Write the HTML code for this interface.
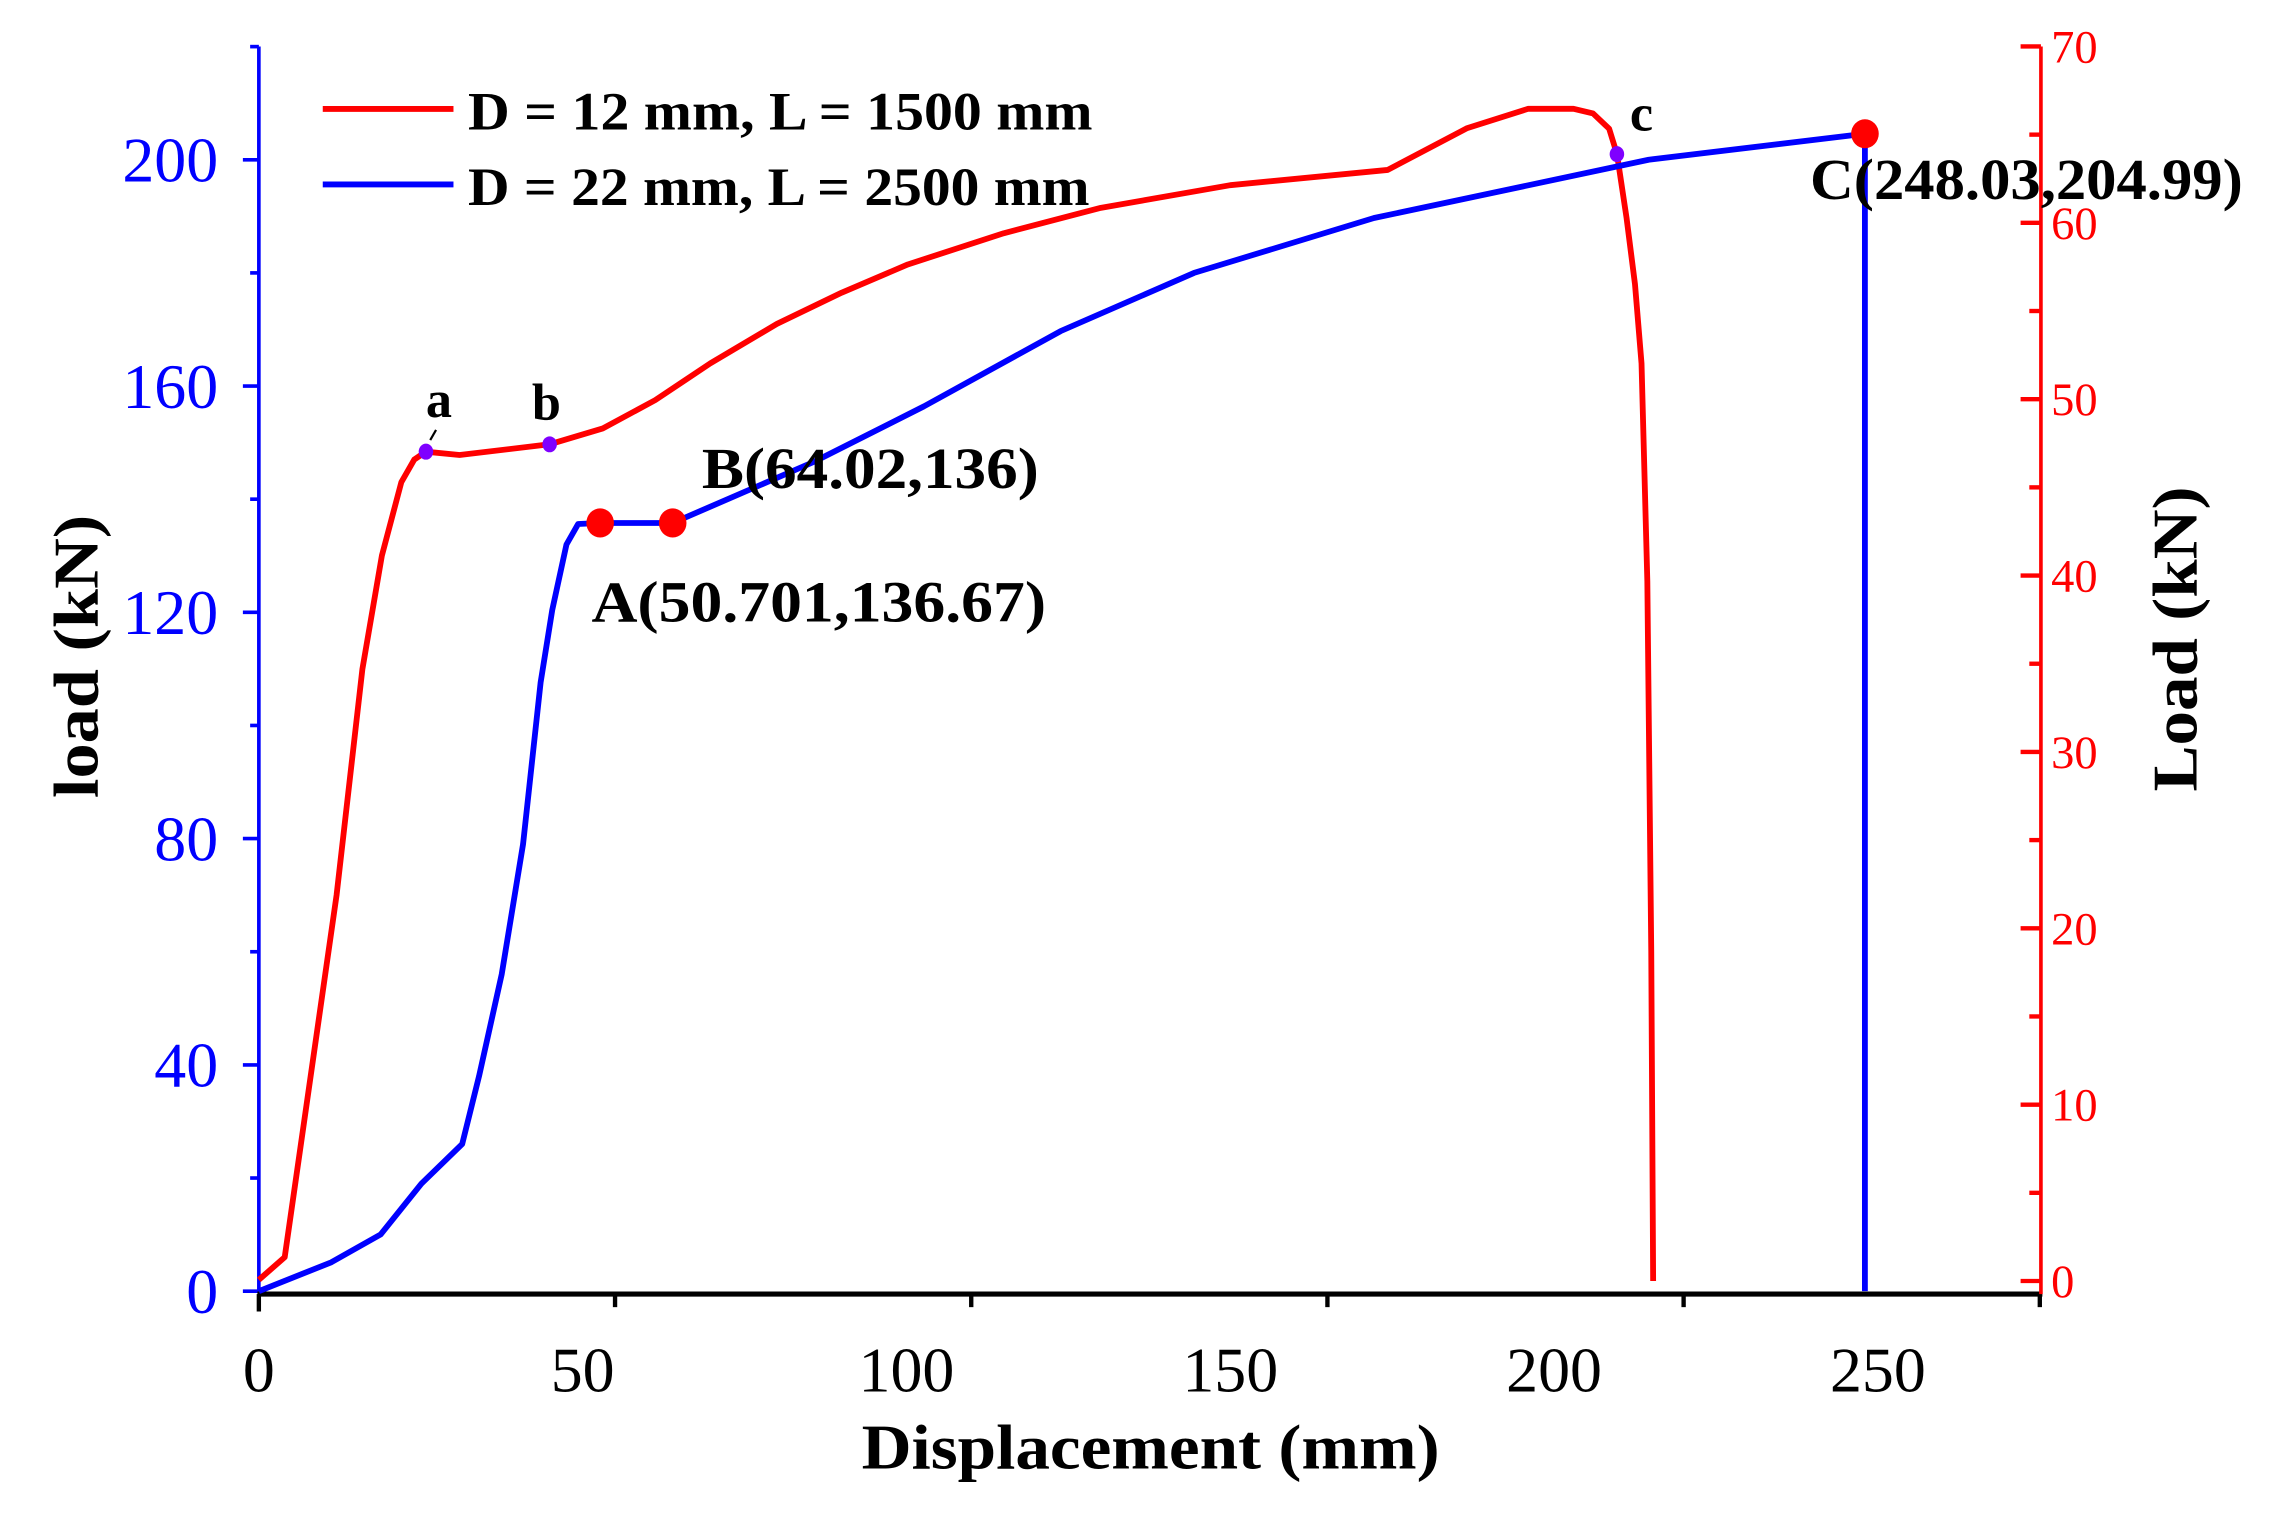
<!DOCTYPE html>
<html><head><meta charset="utf-8"><style>
html,body{margin:0;padding:0;background:#fff;}
svg{display:block;}
text{font-family:"Liberation Serif",serif;}
</style></head><body>
<svg id="chart" width="2278" height="1525" viewBox="0 0 1568 1050" xmlns="http://www.w3.org/2000/svg">
<g id="axes"></g>
<g id="series"></g>
<g id="annot"></g>
<g>
  <line x1="222" y1="75" x2="312" y2="75" stroke="#ff0000" stroke-width="4"/>
  <text x="322" y="89" font-size="37" font-weight="bold" textLength="430" lengthAdjust="spacingAndGlyphs">D = 12 mm, L = 1500 mm</text>
  <line x1="222" y1="127" x2="312" y2="127" stroke="#0000ff" stroke-width="4"/>
  <text x="322" y="141" font-size="37" font-weight="bold" textLength="428" lengthAdjust="spacingAndGlyphs">D = 22 mm, L = 2500 mm</text>
</g>
<text x="792" y="1011" font-size="44" font-weight="bold" text-anchor="middle" textLength="398" lengthAdjust="spacingAndGlyphs">Displacement (mm)</text>
<text transform="translate(67,452) rotate(-90)" font-size="44" font-weight="bold" text-anchor="middle" textLength="195" lengthAdjust="spacingAndGlyphs">load (kN)</text>
<text transform="translate(1512,440) rotate(-90)" font-size="44" font-weight="bold" text-anchor="middle" textLength="210" lengthAdjust="spacingAndGlyphs">Load (kN)</text>
</svg>
<script>
const redX = [0,4,7,12,16,19,22,24,25.8,31,44.9,53.1,61.2,69.7,80,90,100.2,115,130,150,174.3,186.6,196,203,206,208.5,209.7,211.2,212.5,213.5,214.4,215,215.3];
const redY = [2,6,30,70,110,130,143,147,148.4,147.8,149.7,152.5,157.5,164,171,176.5,181.5,187,191.5,195.5,198.2,205.6,209,209,208.2,205.5,201,189.7,178,164,125.5,60,1.8];
const blueX = [0,11.2,18.8,25.1,31.4,34,37.5,40.8,43.5,45.3,47.5,49.3,52.7,63.9,85.7,102.7,123.8,144.4,172.2,214.6,248,248];
const blueY = [0,5.1,10,19,26,38,56,79,107.6,120.4,132,135.6,135.8,135.8,146.6,156.4,169.7,180,189.7,200,204.6,0];
const xTickLabels = [0,50,100,150,200,250];
const xTickMarks = [0,55,110,165,220,275];
const leftTicks = [0,40,80,120,160,200];
const rightTicks = [0,10,20,30,40,50,60,70];
const bigMarkers = [[52.7,135.8],[63.9,135.8],[248,204.6]];
const smallMarkers = [[25.8,148.4],[44.9,149.7],[209.7,201]];

const NS="http://www.w3.org/2000/svg";
const X0=178, PXMM=4.459, Y0=889, PXKN=3.895;
const xs=v=>X0+v*PXMM, ys=v=>Y0-v*PXKN;
const RY0=882, PXR=12.143; const ry=v=>RY0-v*PXR;
function mk(parent,tag,attrs){const e=document.createElementNS(NS,tag);for(const k in attrs)e.setAttribute(k,attrs[k]);parent.appendChild(e);return e;}
const axes=document.getElementById('axes'), series=document.getElementById('series'), annot=document.getElementById('annot');

// left axis
let e=mk(axes,'line',{x1:178,y1:32,x2:178,y2:890,stroke:'#0000ff','stroke-width':2.5});


for(let v=0;v<=220;v+=20){
  const major=v%40===0;
  e=mk(axes,'line',{x1:major?167:172,y1:ys(v),x2:178,y2:ys(v),stroke:'#0000ff','stroke-width':2.5});
  
  
}
leftTicks.forEach(v=>{
  e=mk(axes,'text',{x:150,y:ys(v)+15,'font-size':44,'text-anchor':'end',fill:'#0000ff'});
  e.textContent=v;
  
  
});
// x axis
e=mk(axes,'line',{x1:177,y1:891,x2:1406,y2:891,stroke:'#000','stroke-width':3.5});


xTickMarks.forEach(v=>{
  e=mk(axes,'line',{x1:xs(v),y1:891,x2:xs(v),y2:v===0?903:900,stroke:'#000','stroke-width':3});
  
  
});
xTickLabels.forEach(v=>{
  e=mk(axes,'text',{x:xs(v),y:958,'font-size':44,'text-anchor':'middle',fill:'#000'});
  e.textContent=v;
  
  
});
// right axis
e=mk(axes,'line',{x1:1405,y1:32,x2:1405,y2:891,stroke:'#ff0000','stroke-width':2.5});


for(let v=0;v<=70;v+=5){
  const major=v%10===0;
  e=mk(axes,'line',{x1:major?1391:1397,y1:ry(v),x2:1405,y2:ry(v),stroke:'#ff0000','stroke-width':3});
  
  
}
rightTicks.forEach(v=>{
  e=mk(axes,'text',{x:1412,y:ry(v)+11,'font-size':32,'text-anchor':'start',fill:'#ff0000'});
  e.textContent=v;
  
  
});
// series
function path(xa,ya){return xa.map((x,i)=>(i?'L':'M')+xs(x).toFixed(1)+','+ys(ya[i]).toFixed(1)).join(' ');}
e=mk(series,'path',{d:path(redX,redY),fill:'none',stroke:'#ff0000','stroke-width':4,'stroke-linejoin':'round'});


e=mk(series,'path',{d:path(blueX,blueY),fill:'none',stroke:'#0000ff','stroke-width':4,'stroke-linejoin':'round'});


bigMarkers.forEach(p=>{
  e=mk(series,'ellipse',{cx:xs(p[0]),cy:ys(p[1]),rx:9.5,ry:10,fill:'#ff0000'});
  
  
});
smallMarkers.forEach(p=>{
  e=mk(series,'ellipse',{cx:xs(p[0]),cy:ys(p[1]),rx:5,ry:5.5,fill:'#7f00ff'});
  
  
});
// annotations
const ann=[['a',302,287,'label-a'],['b',376,289,'label-b'],['c',1130,90,'label-c']];
ann.forEach(a=>{
  e=mk(annot,'text',{x:a[1],y:a[2],'font-size':36,'font-weight':'bold','text-anchor':'middle'});
  e.textContent=a[0];
  
  
});
e=mk(annot,'line',{x1:296,y1:303,x2:300,y2:296,stroke:'#000','stroke-width':1.5});


const lbl=[['B(64.02,136)',483,336,232,'label-point-b'],['A(50.701,136.67)',407,428,313,'label-point-a'],['C(248.03,204.99)',1246,137,298,'label-point-c']];
lbl.forEach(a=>{
  e=mk(annot,'text',{x:a[1],y:a[2],'font-size':40,'font-weight':'bold',textLength:a[3],lengthAdjust:'spacingAndGlyphs'});
  e.textContent=a[0];
  
  
});
</script>
</body></html>
